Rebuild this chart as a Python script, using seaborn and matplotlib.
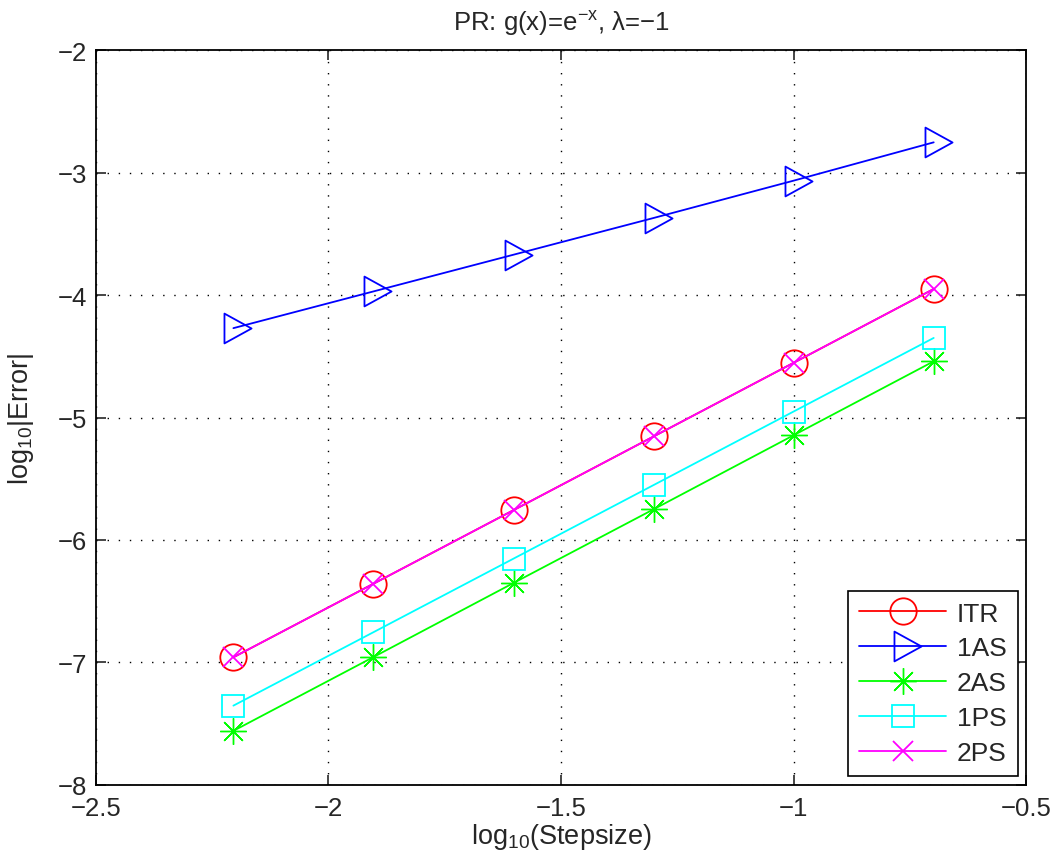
import matplotlib
matplotlib.use("Agg")
import matplotlib.pyplot as plt
import numpy as np
import pandas as pd
import seaborn as sns
from matplotlib.path import Path

# dados
stepsize = [0.00625, 0.0125, 0.025, 0.05, 0.1, 0.2]
log_h = np.log10(stepsize)

err_itr = [-6.959, -6.358, -5.757, -5.155, -4.553, -3.950]
err_1as = [-4.270, -3.970, -3.670, -3.370, -3.065, -2.752]
err_2as = [-7.560, -6.957, -6.352, -5.750, -5.145, -4.541]
err_1ps = [-7.354, -6.754, -6.153, -5.552, -4.951, -4.350]
err_2ps = [-6.959, -6.358, -5.757, -5.155, -4.553, -3.950]

series_names = ["ITR", "1AS", "2AS", "1PS", "2PS"]

sns.set_style("white")
plt.rcParams["font.family"] = ["Liberation Sans", "DejaVu Sans"]
plt.rcParams["mathtext.fontset"] = "custom"
plt.rcParams["mathtext.rm"] = "Liberation Sans"
plt.rcParams["mathtext.it"] = "Liberation Sans"
plt.rcParams["mathtext.default"] = "regular"
plt.rcParams["axes.unicode_minus"] = True

# triangulo com o ponto no centroide (estilo matlab)
tri = Path([(-1, 1.65), (2, 0), (-1, -1.65), (-1, 1.65)],
           [Path.MOVETO, Path.LINETO, Path.LINETO, Path.CLOSEPOLY])

styles = {
    "ITR": dict(color=(1, 0, 0), marker="o", markersize=19, mew=1.3),
    "1AS": dict(color=(0, 0, 1), marker=tri, markersize=26, mew=1.3),
    "2AS": dict(color=(0, 1, 0), marker=(8, 2, 0), markersize=19, mew=1.0),
    "1PS": dict(color=(0, 1, 1), marker="s", markersize=16, mew=1.3),
    "2PS": dict(color=(1, 0, 1), marker="x", markersize=15, mew=1.3),
}
values = {"ITR": err_itr, "1AS": err_1as, "2AS": err_2as,
          "1PS": err_1ps, "2PS": err_2ps}

fig = plt.figure(figsize=(10.59, 8.62), dpi=100)
ax = fig.add_axes([0.0904, 0.0885, 0.8787, 0.852])

for name in series_names:
    st = styles[name]
    sns.lineplot(x=log_h, y=values[name], ax=ax, label=name,
                 color=st["color"], marker=st["marker"],
                 markersize=st["markersize"], markerfacecolor="none",
                 markeredgecolor=st["color"], markeredgewidth=st["mew"],
                 linewidth=1.3)

ax.set_xlim(-2.5, -0.5)
ax.set_ylim(-8, -2)
ax.set_xticks([-2.5, -2, -1.5, -1, -0.5])
ax.set_yticks([-8, -7, -6, -5, -4, -3, -2])
ax.set_xticklabels(["\u22122.5", "\u22122", "\u22121.5", "\u22121", "\u22120.5"])
ax.set_yticklabels(["\u22128", "\u22127", "\u22126", "\u22125", "\u22124", "\u22123", "\u22122"])

ax.grid(True, color="black", linestyle=(0, (1, 7)), linewidth=1.0)
ax.tick_params(direction="in", length=7, width=1.2, labelsize=18.5,
               top=True, right=True, bottom=True, left=True)
ax.tick_params(axis="x", pad=8)
ax.tick_params(axis="y", pad=6)
for sp in ax.spines.values():
    sp.set_visible(True)
    sp.set_color("black")
    sp.set_linewidth(1.3)

ax.set_title("PR: g(x)=e$^{\u2212x}$, \u03bb=\u22121", fontsize=18.5, pad=15)
ax.set_xlabel("log$_{10}$(Stepsize)", fontsize=19.5, labelpad=1)
ax.set_ylabel("log$_{10}$|Error|", fontsize=19.5, labelpad=16)

leg = ax.legend(loc="lower right", fontsize=19, numpoints=1, handlelength=3.3,
                labelspacing=0.41, borderaxespad=0.33, fancybox=False,
                framealpha=1, edgecolor="black", handletextpad=0.4,
                borderpad=0.42)
leg.get_frame().set_linewidth(1.2)

fig.savefig("out.png", dpi=100)
